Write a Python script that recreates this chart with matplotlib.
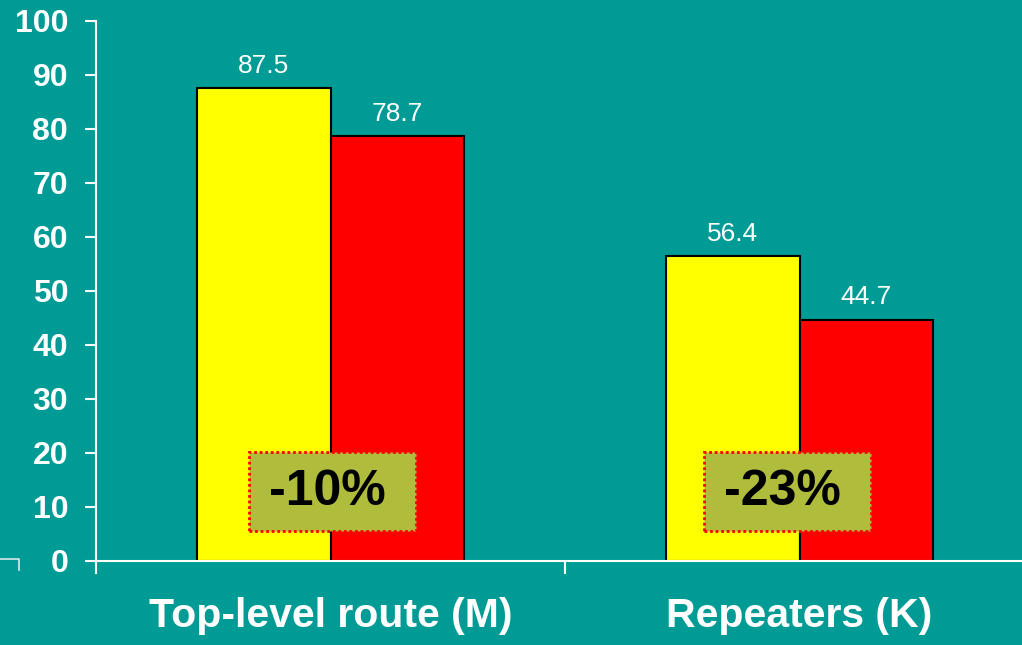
import matplotlib.pyplot as plt
from matplotlib.patches import Rectangle
from matplotlib.lines import Line2D

# data
categories = ["Top-level route (M)", "Repeaters (K)"]
before = [87.5, 56.4]
after = [78.7, 44.7]
changes = ["-10%", "-23%"]
yticks = list(range(0, 101, 10))

bg = "#009B95"
plt.rcParams['font.family'] = ['Liberation Sans', 'DejaVu Sans']

fig = plt.figure(figsize=(10.22, 6.45), dpi=100, facecolor=bg)
ax = fig.add_axes([96 / 1022, 84 / 645, 938 / 1022, 540 / 645])
ax.set_facecolor(bg)

x = list(range(len(categories)))
w = 0.285
ax.bar([i - w / 2 for i in x], before, width=w, color="#FFFF00", edgecolor="black", linewidth=1.5, zorder=2)
ax.bar([i + w / 2 for i in x], after, width=w, color="#FF0000", edgecolor="black", linewidth=1.5, zorder=2)

for i in x:
    ax.annotate(f"{before[i]}", (i - w / 2, before[i]), xytext=(0, 11), textcoords="offset points",
                ha="center", va="baseline", color="white", fontsize=19)
    ax.annotate(f"{after[i]}", (i + w / 2, after[i]), xytext=(0, 11), textcoords="offset points",
                ha="center", va="baseline", color="white", fontsize=19)

# percentage change boxes
box_w = 0.356
box_shift = [0.005, -0.025]
for i in x:
    cx = i + box_shift[i]
    ax.add_patch(Rectangle((cx - box_w / 2, 5.6), box_w, 14.6, facecolor="#B0BC3C",
                           edgecolor="#FF0000", linestyle=(0, (1, 1)), linewidth=2, zorder=3))
    ax.text(cx - 0.012, 12.7, changes[i], ha="center", va="center", fontsize=36,
            fontweight="bold", color="black", zorder=4)

ax.set_xlim(-0.5, 1.5)
ax.set_ylim(0, 100)
ax.set_yticks(yticks)
ax.set_yticklabels([str(t) for t in yticks], fontsize=23, fontweight="bold", color="white")
ax.tick_params(axis="y", direction="out", length=8, width=1.5, color="white", pad=12)

ax.set_xticks(x)
ax.set_xticklabels(categories, fontsize=29.5, fontweight="bold", color="white")
ax.tick_params(axis="x", which="major", length=0, pad=26)
ax.set_xticks([-0.5, 0.5, 1.5], minor=True)
ax.tick_params(axis="x", which="minor", direction="out", length=9, width=1.5, color="white")

for side in ["top", "right"]:
    ax.spines[side].set_visible(False)
for side in ["left", "bottom"]:
    ax.spines[side].set_color("white")
    ax.spines[side].set_linewidth(1.5)
ax.spines["left"].set_bounds(0, 100)

# stray bracket at bottom left
fig.add_artist(Line2D([0, 19 / 1022, 19 / 1022], [86 / 645, 86 / 645, 75 / 645],
                      color="#d8e8e8", linewidth=1.2))

fig.savefig("out.png", dpi=100, facecolor=bg)
